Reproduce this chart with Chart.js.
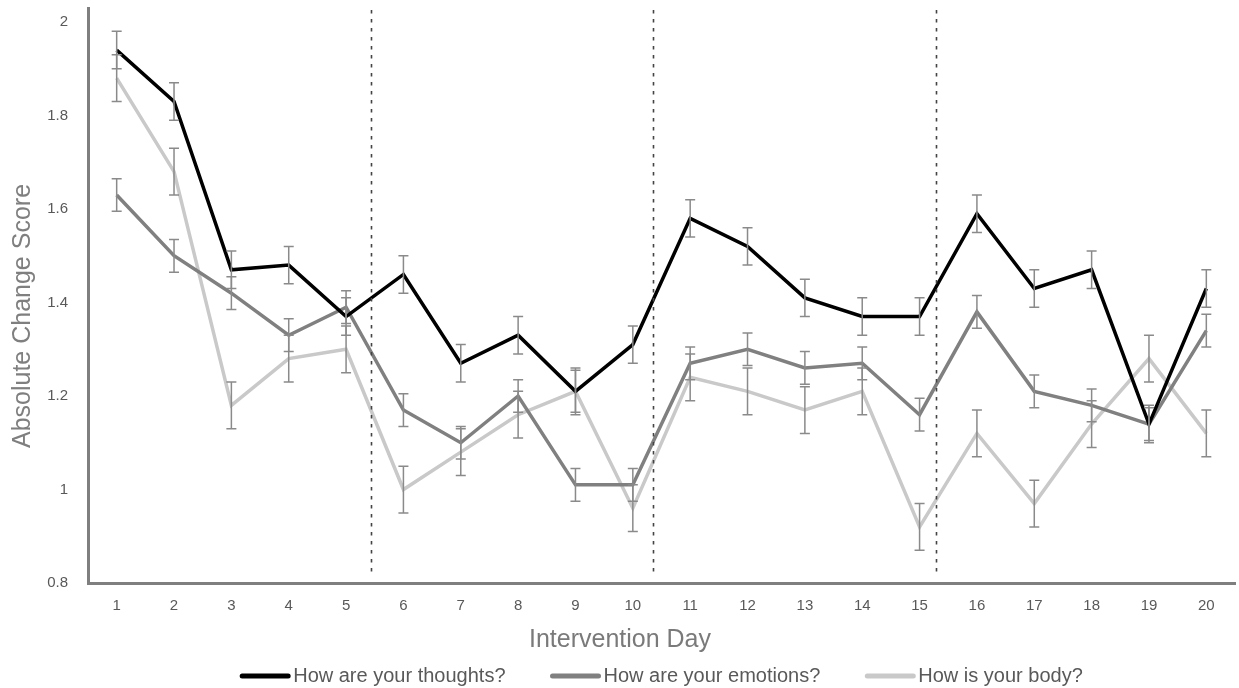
<!DOCTYPE html>
<html>
<head>
<meta charset="utf-8">
<script src="https://cdn.jsdelivr.net/npm/chart.js@4.4.1/dist/chart.umd.min.js"></script>
<style>
  html, body { margin: 0; padding: 0; background: #fff; }
  #wrap { width: 1239px; height: 688px; }
</style>
</head>
<body>
<div id="wrap"><canvas id="chart" width="1239" height="688"></canvas></div>
<script>
const days = ['1','2','3','4','5','6','7','8','9','10','11','12','13','14','15','16','17','18','19','20'];
const yTicks = [0.8, 1, 1.2, 1.4, 1.6, 1.8, 2];

const thoughts = [1.94, 1.83, 1.47, 1.48, 1.37, 1.46, 1.27, 1.33, 1.21, 1.31, 1.58, 1.52, 1.41, 1.37, 1.37, 1.59, 1.43, 1.47, 1.14, 1.43];
const thoughtsErr = [0.04, 0.04, 0.04, 0.04, 0.04, 0.04, 0.04, 0.04, 0.045, 0.04, 0.04, 0.04, 0.04, 0.04, 0.04, 0.04, 0.04, 0.04, 0.04, 0.04];

const emotions = [1.63, 1.50, 1.42, 1.33, 1.39, 1.17, 1.10, 1.20, 1.01, 1.01, 1.27, 1.30, 1.26, 1.27, 1.16, 1.38, 1.21, 1.18, 1.14, 1.34];
const emotionsErr = [0.035, 0.035, 0.035, 0.035, 0.035, 0.035, 0.035, 0.035, 0.035, 0.035, 0.035, 0.035, 0.035, 0.035, 0.035, 0.035, 0.035, 0.035, 0.035, 0.035];

const body = [1.88, 1.68, 1.18, 1.28, 1.30, 1.00, 1.08, 1.16, 1.21, 0.96, 1.24, 1.21, 1.17, 1.21, 0.92, 1.12, 0.97, 1.14, 1.28, 1.12];
const bodyErr = [0.05, 0.05, 0.05, 0.05, 0.05, 0.05, 0.05, 0.05, 0.05, 0.05, 0.05, 0.05, 0.05, 0.05, 0.05, 0.05, 0.05, 0.05, 0.05, 0.05];

// block boundaries (dashed lines), in days
const dividers = [5.43, 10.35, 15.28];

const sans = "'Liberation Sans', Arial, sans-serif";

// day (1-based, fractional) -> pixel on the category axis
function dayPixel(x, d) {
    const i = Math.floor(d) - 1, f = d - Math.floor(d);
    const a = x.getPixelForValue(i), b = x.getPixelForValue(i + 1);
    return a + (b - a) * f;
}

// error bars, dashed dividers, axis titles and legend
const extras = {
    id: 'extras',
    afterDatasetsDraw(chart) {
        const ctx = chart.ctx;
        const x = chart.scales.x, y = chart.scales.y;
        const area = chart.chartArea;
        ctx.save();
        ctx.strokeStyle = '#8a8a8a';
        ctx.lineWidth = 1.5;
        chart.data.datasets.forEach(ds => {
            ds.data.forEach((v, i) => {
                const e = ds.errors[i];
                const px = x.getPixelForValue(i);
                const top = y.getPixelForValue(v + e), bot = y.getPixelForValue(v - e);
                ctx.beginPath();
                ctx.moveTo(px, top); ctx.lineTo(px, bot);
                ctx.moveTo(px - 5, top); ctx.lineTo(px + 5, top);
                ctx.moveTo(px - 5, bot); ctx.lineTo(px + 5, bot);
                ctx.stroke();
            });
        });
        ctx.strokeStyle = '#444444';
        ctx.setLineDash([3.5, 5.5]);
        ctx.lineWidth = 1.6;
        dividers.forEach(d => {
            const px = Math.round(dayPixel(x, d)) + 0.5;
            ctx.beginPath();
            ctx.moveTo(px, area.top + 2);
            ctx.lineTo(px, area.bottom - 6);
            ctx.stroke();
        });
        ctx.restore();
    },
    afterDraw(chart) {
        const ctx = chart.ctx;
        const area = chart.chartArea;
        ctx.save();
        ctx.textAlign = 'center';
        ctx.textBaseline = 'middle';
        // y axis title
        ctx.fillStyle = '#7f7f7f';
        ctx.font = "25px " + sans;
        ctx.save();
        ctx.translate(23, 316);
        ctx.rotate(-Math.PI / 2);
        ctx.fillText('Absolute Change Score', 0, 0);
        ctx.restore();
        // x axis title
        ctx.fillStyle = '#7a7a7a';
        ctx.fillText('Intervention Day', 620, area.bottom + 57);
        // legend
        ctx.font = "20px " + sans;
        ctx.textAlign = 'left';
        const boxW = 50, gap = 3, spacing = 45;
        const items = chart.data.datasets.map(ds => ({ text: ds.label, color: ds.borderColor, w: ctx.measureText(ds.label).width }));
        const total = items.reduce((s, it) => s + boxW + gap + it.w, 0) + spacing * (items.length - 1);
        let cx = (area.left + area.right) / 2 - total / 2;
        const ly = area.bottom + 93;
        items.forEach(it => {
            ctx.strokeStyle = it.color;
            ctx.lineWidth = 5;
            ctx.lineCap = 'round';
            ctx.beginPath();
            ctx.moveTo(cx + 2, ly); ctx.lineTo(cx + boxW - 2, ly);
            ctx.stroke();
            ctx.fillStyle = '#595959';
            ctx.fillText(it.text, cx + boxW + gap, ly);
            cx += boxW + gap + it.w + spacing;
        });
        ctx.restore();
    }
};

new Chart(document.getElementById('chart'), {
    type: 'line',
    data: {
        labels: days,
        datasets: [
            { label: 'How are your thoughts?', data: thoughts, errors: thoughtsErr, borderColor: '#000000', backgroundColor: '#000000' },
            { label: 'How are your emotions?', data: emotions, errors: emotionsErr, borderColor: '#808080', backgroundColor: '#808080' },
            { label: 'How is your body?', data: body, errors: bodyErr, borderColor: '#c9c9c9', backgroundColor: '#c9c9c9' }
        ].map(d => Object.assign(d, { borderWidth: 3.5, pointRadius: 0, tension: 0, fill: false }))
    },
    options: {
        responsive: false,
        animation: false,
        layout: { padding: { top: 8, right: 4, left: 0, bottom: 0 } },
        plugins: {
            tooltip: { enabled: false },
            legend: { display: false }
        },
        scales: {
            x: {
                offset: true,
                grid: { display: false, drawTicks: false },
                border: { color: '#7f7f7f', width: 3 },
                ticks: { color: '#595959', font: { family: sans, size: 15 }, padding: 14, maxRotation: 0 },
                afterFit: s => { s.height = 105; }
            },
            y: {
                min: 0.8,
                max: 2.03,
                afterBuildTicks: s => { s.ticks = yTicks.map(v => ({ value: v })); },
                afterFit: s => { s.width = 88; s.paddingTop = 0; s.paddingBottom = 0; },
                grid: { display: false, drawTicks: false },
                border: { color: '#7f7f7f', width: 3 },
                ticks: { color: '#595959', font: { family: sans, size: 15 }, padding: 20, callback: v => String(v) }
            }
        }
    },
    plugins: [extras]
});
</script>
</body>
</html>
